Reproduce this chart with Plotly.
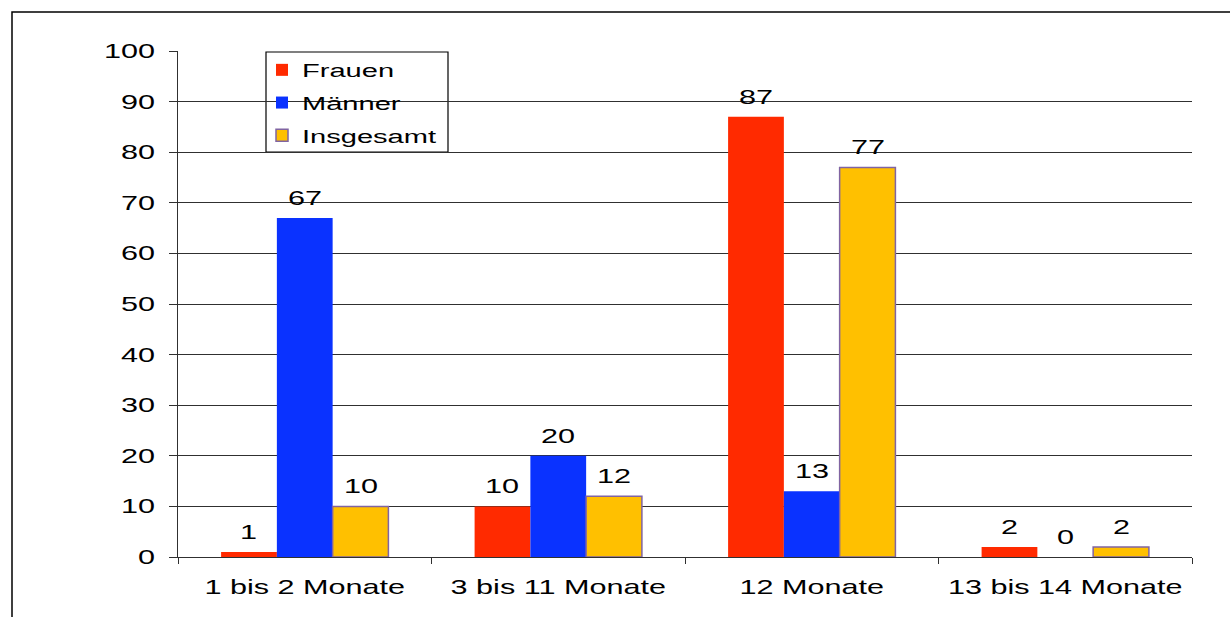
import plotly.graph_objects as go

# Duration categories and shares (percent) per group
categories = ["1 bis 2 Monate", "3 bis 11 Monate", "12 Monate", "13 bis 14 Monate"]
frauen = [1, 10, 87, 2]
maenner = [67, 20, 13, 0]
insgesamt = [10, 12, 77, 2]
series_names = ["Frauen", "Männer", "Insgesamt"]
y_ticks = list(range(0, 101, 10))

FONT = "Liberation Sans"
W, H = 1230, 617
ML, MR, MT, MB = 178, 38, 51, 60
BARGAP = 0.34
TEXT_STRETCH = 1.53

colors = ["#ff2a00", "#0a32ff", "#ffc000"]
outlines = ["#ff2a00", "#0a32ff", "#8064a2"]
values = [frauen, maenner, insgesamt]

fig = go.Figure()
for name, vals, c, oc in zip(series_names, values, colors, outlines):
    fig.add_trace(go.Bar(
        name=name, x=categories, y=vals, legendgroup=name,
        marker=dict(color=c, line=dict(color=oc, width=1.5 if oc != c else 0)),
    ))

# value labels above each bar
pw = W - ML - MR
ph = H - MT - MB
bar_w = (1 - BARGAP) / len(series_names)
for k, vals in enumerate(values):
    for i, v in enumerate(vals):
        fig.add_annotation(
            x=i + (k - 1) * bar_w, y=v, text=str(v), showarrow=False,
            xref="x", yref="y", yanchor="bottom", yshift=7,
            font=dict(family=FONT, size=20, color="black"),
        )

def px_x(p):
    return (p - ML) / pw

def px_y(p):
    return (H - MB - p) / ph

# legend frame
fig.add_shape(type="rect", xref="paper", yref="paper",
              x0=px_x(266), x1=px_x(448), y0=px_y(152), y1=px_y(52),
              line=dict(color="black", width=1.2), fillcolor="white", layer="below")
# outer chart frame
fig.add_shape(type="rect", xref="paper", yref="paper",
              x0=px_x(12), x1=px_x(1240), y0=px_y(625), y1=px_y(12),
              line=dict(color="black", width=1.5), layer="above")

axis_col = "#303030"
fig.update_layout(
    width=W, height=H,
    margin=dict(l=ML, r=MR, t=MT, b=MB),
    paper_bgcolor="white", plot_bgcolor="white",
    barmode="group", bargap=BARGAP, bargroupgap=0,
    font=dict(family=FONT, size=20, color="black"),
    showlegend=True,
    legend=dict(x=px_x(262), y=px_y(51), xanchor="left", yanchor="top",
                bgcolor="rgba(0,0,0,0)", borderwidth=0,
                font=dict(family=FONT, size=19, color="black"),
                itemwidth=30, tracegroupgap=5),
    xaxis=dict(type="category", showline=True, linecolor=axis_col, linewidth=1,
               ticks="outside", tickson="boundaries", ticklen=6, tickcolor=axis_col,
               ticklabelstandoff=12, showgrid=False,
               tickfont=dict(family=FONT, size=20, color="black")),
    yaxis=dict(range=[0, 100], tickvals=y_ticks, showgrid=True, gridcolor=axis_col,
               gridwidth=1, showline=True, linecolor=axis_col, linewidth=1,
               ticks="outside", ticklen=8, tickcolor=axis_col, zeroline=False,
               ticklabelstandoff=10,
               tickfont=dict(family=FONT, size=20, color="black")),
)

# widen every text glyph horizontally about its anchor point
post = """
(function(){
var gd=document.getElementById('{plot_id}');
var k=%s;
function stretch(){
  gd.querySelectorAll('svg text').forEach(function(t){
    var cur=t.getAttribute('transform')||'';
    if(t.getAttribute('data-applied-tf')===cur) return;
    var x=parseFloat(t.getAttribute('x')||'0');
    var tf=(cur+' translate('+x+',0) scale('+k+',1) translate('+(-x)+',0)').trim();
    t.setAttribute('data-applied-tf',tf);
    t.setAttribute('transform',tf);
  });
  gd.querySelectorAll('.legend .scrollbox').forEach(function(g){g.removeAttribute('clip-path');});
}
stretch();
gd.on('plotly_afterplot',stretch);
})();
""" % TEXT_STRETCH
fig.write_html("out.html", post_script=post)
